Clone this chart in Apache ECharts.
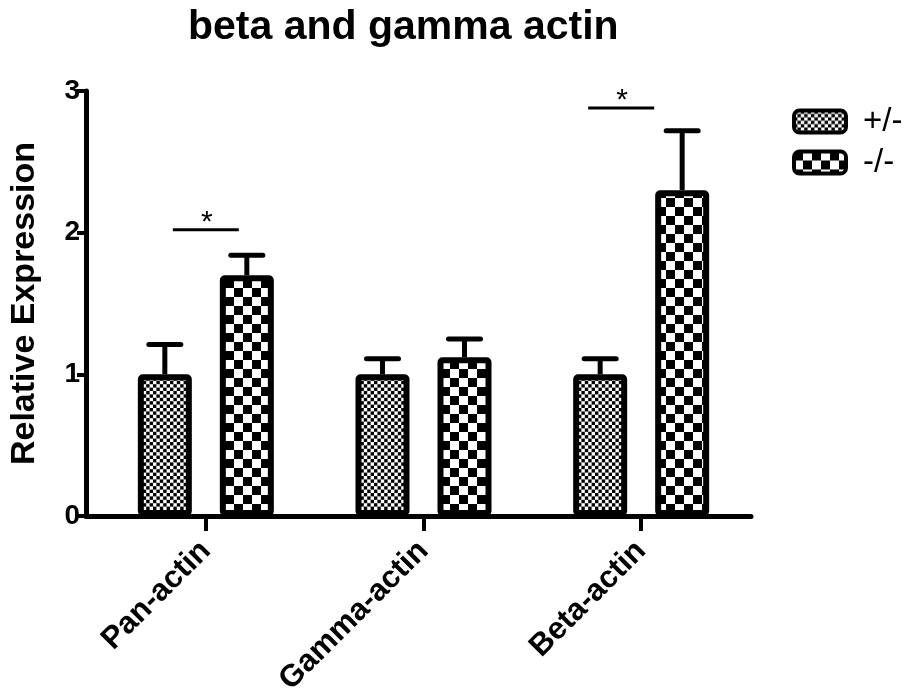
<!DOCTYPE html>
<html>
<head>
<meta charset="utf-8">
<script src="https://cdn.jsdelivr.net/npm/echarts@6/dist/echarts.min.js"></script>
<style>
  html, body { margin: 0; padding: 0; background: #ffffff; }
  #chart { width: 911px; height: 700px; }
</style>
</head>
<body>
<div id="chart"></div>
<script>
// ---- data ----
const categories = ['Pan-actin', 'Gamma-actin', 'Beta-actin'];
const seriesNames = ['+/-', '-/-'];
const hetMean = [1.00, 1.00, 1.00];
const hetSem = [0.21, 0.11, 0.11];
const koMean = [1.70, 1.12, 2.30];
const koSem = [0.14, 0.13, 0.42];
const yTicks = [0, 1, 2, 3];
const sigCategory = [0, 2];
const sigLevel = [2.02, 2.88];
const sigLabel = ['*', '*'];

// ---- layout / style ----
const FONT = 'Arial, "Liberation Sans", Helvetica, sans-serif';
const INK = '#000000';
const BAR_W = 54;          // bar body width (border drawn on top)
const BAR_GAP_PX = 28;     // space between the two bars of a group
const BAR_OFFSET = (BAR_W + BAR_GAP_PX) / 2;
const CAP_W = 32;
const LINE_W = 5;
const BORDER_W = 6;
const SIG_SPAN = [[-33, 33], [-53, 13]];   // horizontal extent of each bracket, px from group centre

function checkerPattern(cell, cells) {
  const size = Math.round(cell * cells);
  const c = document.createElement('canvas');
  c.width = size; c.height = size;
  const g = c.getContext('2d');
  g.fillStyle = '#ffffff';
  g.fillRect(0, 0, size, size);
  g.fillStyle = '#000000';
  for (let r = 0; r < cells; r++) {
    for (let k = 0; k < cells; k++) {
      if ((r + k) % 2 === 0) g.fillRect(k * cell, r * cell, cell, cell);
    }
  }
  return { image: c, repeat: 'repeat' };
}

const finePattern = checkerPattern(3.4, 10);
const coarsePattern = checkerPattern(9, 2);

function errorBars(side) {
  return function (params, api) {
    const i = api.value(0);
    const m = api.value(1);
    const s = api.value(2);
    const base = api.coord([i, m]);
    const top = api.coord([i, m + s]);
    const x = base[0] + side * BAR_OFFSET;
    return {
      type: 'group',
      children: [
        { type: 'line', shape: { x1: x, y1: base[1], x2: x, y2: top[1] },
          style: { stroke: INK, lineWidth: LINE_W } },
        { type: 'line', shape: { x1: x - CAP_W / 2, y1: top[1], x2: x + CAP_W / 2, y2: top[1] },
          style: { stroke: INK, lineWidth: LINE_W, lineCap: 'round' } }
      ]
    };
  };
}

function sigBracket(params, api) {
  const i = api.value(0);
  const level = api.value(1);
  const p = api.coord([i, level]);
  const span = SIG_SPAN[params.dataIndex];
  const x1 = p[0] + span[0], x2 = p[0] + span[1];
  return {
    type: 'group',
    children: [
      { type: 'line', shape: { x1: x1, y1: p[1], x2: x2, y2: p[1] },
        style: { stroke: INK, lineWidth: 3 } },
      { type: 'text', x: (x1 + x2) / 2 + 1, y: p[1] - 7,
        style: { text: sigLabel[params.dataIndex], font: '30px ' + FONT, fill: INK,
                 align: 'center', verticalAlign: 'middle' } }
    ]
  };
}

const chart = echarts.init(document.getElementById('chart'), null, { renderer: 'canvas' });

const option = {
  backgroundColor: '#ffffff',
  animation: false,
  title: {
    text: 'beta and gamma actin',
    left: 183,
    top: 2,
    textStyle: { fontFamily: FONT, fontWeight: 'bold', fontSize: 41, color: INK }
  },
  legend: {
    orient: 'vertical',
    left: 787,
    top: 100,
    itemWidth: 52,
    itemHeight: 22,
    itemGap: 8,
    icon: 'roundRect',
    data: seriesNames,
    itemStyle: { borderColor: INK, borderWidth: 4 },
    textStyle: { fontFamily: FONT, fontSize: 33, color: INK, padding: [0, 0, 0, 12] }
  },
  grid: [
    { left: 84, right: 160, top: 91, bottom: 184 },
    { left: 97, right: 161, top: 91, bottom: 184 }
  ],
  xAxis: [
    {
      gridIndex: 0, type: 'value', min: 0, max: 1,
      axisLine: { show: true, onZero: false, lineStyle: { color: INK, width: LINE_W } },
      axisTick: { show: false }, axisLabel: { show: false }, splitLine: { show: false }
    },
    {
      gridIndex: 1, type: 'category', data: categories,
      axisLine: { show: false },
      axisTick: { show: true, alignWithLabel: true, length: 15, lineStyle: { color: INK, width: 4 } },
      axisLabel: {
        rotate: 45, margin: 30, interval: 0,
        fontFamily: FONT, fontWeight: 'bold', fontSize: 31, color: INK
      },
      splitLine: { show: false }
    }
  ],
  yAxis: [
    {
      gridIndex: 0, type: 'value', min: yTicks[0], max: yTicks[yTicks.length - 1], interval: 1,
      name: 'Relative Expression', nameLocation: 'middle', nameGap: 44,
      nameTextStyle: { fontFamily: FONT, fontWeight: 'bold', fontSize: 34, color: INK },
      axisLine: { show: true, lineStyle: { color: INK, width: LINE_W } },
      axisTick: { show: true, length: 9, lineStyle: { color: INK, width: 4 } },
      axisLabel: { margin: 6, fontFamily: FONT, fontWeight: 'bold', fontSize: 28, color: INK },
      splitLine: { show: false }
    },
    {
      gridIndex: 1, type: 'value', min: yTicks[0], max: yTicks[yTicks.length - 1],
      show: false, splitLine: { show: false }
    }
  ],
  series: [
    {
      name: seriesNames[0], type: 'bar', xAxisIndex: 1, yAxisIndex: 1,
      data: hetMean, barWidth: BAR_W, barGap: (BAR_GAP_PX / BAR_W * 100) + '%',
      itemStyle: { color: finePattern, borderColor: INK, borderWidth: BORDER_W, borderRadius: 2 },
      z: 2
    },
    {
      name: seriesNames[1], type: 'bar', xAxisIndex: 1, yAxisIndex: 1,
      data: koMean, barWidth: BAR_W,
      itemStyle: { color: coarsePattern, borderColor: INK, borderWidth: BORDER_W, borderRadius: 2 },
      z: 2
    },
    {
      type: 'custom', xAxisIndex: 1, yAxisIndex: 1, z: 1,
      renderItem: errorBars(-1),
      data: categories.map((c, i) => [i, hetMean[i], hetSem[i]])
    },
    {
      type: 'custom', xAxisIndex: 1, yAxisIndex: 1, z: 1,
      renderItem: errorBars(1),
      data: categories.map((c, i) => [i, koMean[i], koSem[i]])
    },
    {
      type: 'custom', xAxisIndex: 1, yAxisIndex: 1, z: 3,
      renderItem: sigBracket,
      data: sigCategory.map((c, k) => [c, sigLevel[k]])
    }
  ]
};

chart.setOption(option);
</script>
</body>
</html>
